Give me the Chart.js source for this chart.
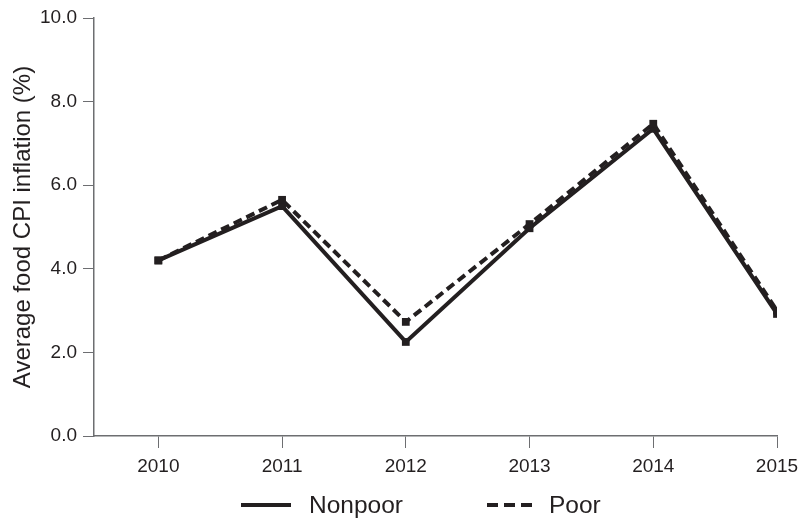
<!DOCTYPE html>
<html>
<head>
<meta charset="utf-8">
<script src="https://cdn.jsdelivr.net/npm/chart.js@4"></script>
<style>
  html, body { margin: 0; padding: 0; background: #fff; }
  #wrap { width: 802px; height: 519px; }
</style>
</head>
<body>
<div id="wrap"><canvas id="c" width="802" height="519"></canvas></div>
<script>
const years = [2010, 2011, 2012, 2013, 2014, 2015];
const nonpoor = [4.2, 5.5, 2.25, 4.97, 7.35, 2.92];
const poor = [4.2, 5.65, 2.73, 5.07, 7.47, 3.0];
const seriesNames = ['Nonpoor', 'Poor'];
const yTicks = [0, 2, 4, 6, 8, 10];

const INK = '#231f20';
const AXIS = '#6d6e71';
const FONT = "'Liberation Sans', Arial, Helvetica, sans-serif";

const toPts = arr => years.map((y, i) => ({ x: y, y: arr[i] }));

const legendPlugin = {
  id: 'bottomLegend',
  afterDraw(chart) {
    const ctx = chart.ctx;
    const ds = chart.data.datasets;
    const items = [
      { x0: 241, x1: 291, tx: 309, d: ds[0], dash: [] },
      { x0: 487, x1: 533, tx: 549, d: ds[1], dash: [11, 6] }
    ];
    const yy = 505;
    ctx.save();
    items.forEach(it => {
      ctx.beginPath();
      ctx.strokeStyle = it.d.borderColor;
      ctx.lineWidth = 4;
      ctx.setLineDash(it.dash);
      ctx.moveTo(it.x0, yy);
      ctx.lineTo(it.x1, yy);
      ctx.stroke();
      ctx.setLineDash([]);
      ctx.fillStyle = INK;
      ctx.font = '24.5px ' + FONT;
      ctx.textBaseline = 'middle';
      ctx.textAlign = 'left';
      ctx.fillText(it.d.label, it.tx, yy + 1);
    });
    ctx.restore();
  }
};

new Chart(document.getElementById('c'), {
  type: 'line',
  data: {
    datasets: [
      {
        label: seriesNames[0],
        data: toPts(nonpoor),
        borderColor: INK,
        backgroundColor: INK,
        borderWidth: 4,
        pointStyle: 'rect',
        pointRadius: 5.5,
        pointBorderWidth: 0,
        pointBackgroundColor: INK,
        tension: 0,
        order: 2
      },
      {
        label: seriesNames[1],
        data: toPts(poor),
        borderColor: INK,
        backgroundColor: INK,
        borderWidth: 4,
        borderDash: [9, 5],
        pointStyle: 'rect',
        pointRadius: 5.5,
        pointBorderWidth: 0,
        pointBackgroundColor: INK,
        tension: 0,
        order: 1
      }
    ]
  },
  options: {
    responsive: false,
    animation: false,
    devicePixelRatio: 1,
    layout: { padding: { left: 0, right: 25, top: 18, bottom: 41 } },
    plugins: {
      legend: { display: false },
      tooltip: { enabled: false }
    },
    scales: {
      x: {
        type: 'linear',
        min: 2009.48,
        max: 2015,
        afterBuildTicks: s => { s.ticks = years.map(v => ({ value: v })); },
        afterFit: s => { s.height = 42; s.paddingRight = 0; s.paddingLeft = 0; },
        grid: { display: true, drawOnChartArea: false, drawTicks: true, tickLength: 12, color: AXIS, lineWidth: 1 },
        border: { display: true, color: AXIS, width: 1.5 },
        ticks: {
          color: INK,
          font: { family: FONT, size: 19 },
          padding: 7,
          maxRotation: 0,
          autoSkip: false,
          callback: v => String(v)
        }
      },
      y: {
        min: 0,
        max: 10,
        afterBuildTicks: s => { s.ticks = yTicks.map(v => ({ value: v })); },
        afterFit: s => { s.width = 94; },
        grid: { display: true, drawOnChartArea: false, drawTicks: true, tickLength: 11, color: AXIS, lineWidth: 1 },
        border: { display: true, color: AXIS, width: 1.5 },
        ticks: {
          color: INK,
          font: { family: FONT, size: 19 },
          padding: 6,
          callback: v => Number(v).toFixed(1)
        },
        title: {
          display: true,
          text: 'Average food CPI inflation (%)',
          color: INK,
          font: { family: FONT, size: 24 },
          padding: { top: 9, bottom: 0 }
        }
      }
    }
  },
  plugins: [legendPlugin]
});
</script>
</body>
</html>
